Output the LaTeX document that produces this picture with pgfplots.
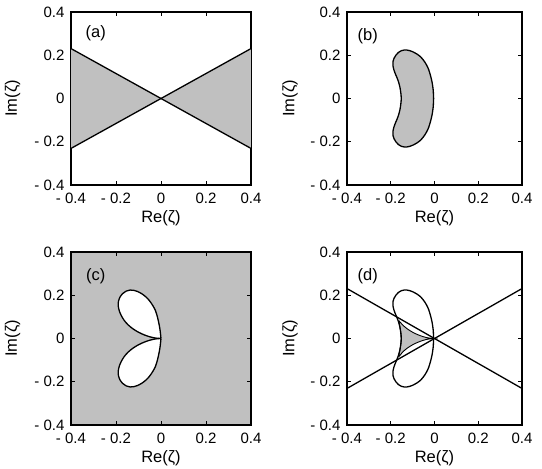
\documentclass[border=0pt]{standalone}
\usepackage{fontspec}
\setmainfont{Liberation Sans}
\usepackage{pgfplots}
\pgfplotsset{compat=1.18}
\definecolor{shade}{RGB}{192,192,192}
\pgfplotsset{
  panel/.style={
    scale only axis,
    xmin=-0.4, xmax=0.4, ymin=-0.4, ymax=0.4,
    xtick={-0.4,-0.2,0,0.2,0.4}, ytick={-0.4,-0.2,0,0.2,0.4},
    xticklabels={- 0.4,- 0.2,0,0.2,0.4},
    yticklabels={- 0.4,- 0.2,0,0.2,0.4},
    tick align=inside, major tick length=4bp,
    every tick/.style={black, line width=0.9bp},
    axis line style={line width=1.4bp},
    tick label style={font=\fontsize{15bp}{18bp}\selectfont},
    label style={font=\fontsize{16.5bp}{19bp}\selectfont},
    xticklabel style={yshift=-5bp},
    yticklabel style={xshift=-3bp},
    xlabel={Re(ζ)}, ylabel={Im(ζ)},
    xlabel style={at={(axis description cs:0.5,-0.193)}, anchor=center},
    ylabel style={at={(axis description cs:-0.325,0.5)}, anchor=center},
  },
  curve/.style={black, line width=1.3bp, mark=none},
}
\pgfplotstableread{
x y
-0.004 0
-0.006 0.04
-0.011 0.075
-0.018 0.105
-0.027 0.135
-0.038 0.158
-0.051 0.178
-0.065 0.194
-0.081 0.206
-0.097 0.215
-0.112 0.221
-0.126 0.224
-0.139 0.224
-0.152 0.221
-0.165 0.213
-0.176 0.201
-0.185 0.186
-0.190 0.170
-0.190 0.153
-0.186 0.134
-0.179 0.114
-0.171 0.095
-0.164 0.075
-0.158 0.052
-0.154 0.026
-0.152 0
-0.154 -0.026
-0.158 -0.052
-0.164 -0.075
-0.171 -0.095
-0.179 -0.114
-0.186 -0.134
-0.190 -0.153
-0.190 -0.170
-0.185 -0.186
-0.176 -0.201
-0.165 -0.213
-0.152 -0.221
-0.139 -0.224
-0.126 -0.224
-0.112 -0.221
-0.097 -0.215
-0.081 -0.206
-0.065 -0.194
-0.051 -0.178
-0.038 -0.158
-0.027 -0.135
-0.018 -0.105
-0.011 -0.075
-0.006 -0.04
-0.004 0
}\kidney
\pgfplotstableread{
x y
0 0
-0.002 0.02
-0.005 0.045
-0.010 0.073
-0.016 0.100
-0.025 0.130
-0.038 0.155
-0.053 0.177
-0.069 0.194
-0.087 0.208
-0.106 0.218
-0.122 0.223
-0.138 0.224
-0.155 0.219
-0.170 0.208
-0.182 0.192
-0.189 0.172
-0.190 0.150
-0.185 0.127
-0.176 0.105
-0.163 0.083
-0.146 0.063
-0.125 0.045
-0.100 0.029
-0.075 0.017
-0.050 0.008
-0.025 0.002
0 0
}\lobeup
\pgfplotstableread{
x y
0 0
-0.002 -0.02
-0.005 -0.045
-0.010 -0.073
-0.016 -0.100
-0.025 -0.130
-0.038 -0.155
-0.053 -0.177
-0.069 -0.194
-0.087 -0.208
-0.106 -0.218
-0.122 -0.223
-0.138 -0.224
-0.155 -0.219
-0.170 -0.208
-0.182 -0.192
-0.189 -0.172
-0.190 -0.150
-0.185 -0.127
-0.176 -0.105
-0.163 -0.083
-0.146 -0.063
-0.125 -0.045
-0.100 -0.029
-0.075 -0.017
-0.050 -0.008
-0.025 -0.002
0 0
}\lobedown
\pgfplotstableread{
x y
-0.163 0.083
-0.146 0.063
-0.125 0.045
-0.100 0.029
-0.075 0.017
-0.050 0.008
-0.025 0.002
0 0
-0.025 -0.002
-0.050 -0.008
-0.075 -0.017
-0.100 -0.029
-0.125 -0.045
-0.146 -0.063
-0.163 -0.083
-0.158 -0.052
-0.154 -0.026
-0.152 0
-0.154 0.026
-0.158 0.052
-0.163 0.083
}\region
\begin{document}
\begin{tikzpicture}
\useasboundingbox (0,0) rectangle (542bp,469bp);
% (a)
\begin{axis}[panel, at={(71bp,284bp)}, anchor=south west, width=180bp, height=173bp]
\addplot[fill=shade, draw=none] coordinates {(-0.4,0.2309) (0,0) (-0.4,-0.2309) (-0.4,0.2309)};
\addplot[fill=shade, draw=none] coordinates {(0.4,0.2309) (0,0) (0.4,-0.2309) (0.4,0.2309)};
\addplot[curve] coordinates {(-0.4,0.2309) (0.4,-0.2309)};
\addplot[curve] coordinates {(-0.4,-0.2309) (0.4,0.2309)};
\node[font=\fontsize{16.5bp}{19bp}\selectfont] at (axis cs:-0.29,0.30) {(a)};
\end{axis}
% (b)
\begin{axis}[panel, at={(347bp,284bp)}, anchor=south west, width=175bp, height=173bp]
\addplot[curve, fill=shade, smooth] table {\kidney};
\node[font=\fontsize{16.5bp}{19bp}\selectfont] at (axis cs:-0.305,0.29) {(b)};
\end{axis}
% (c)
\begin{axis}[panel, at={(71bp,44bp)}, anchor=south west, width=180bp, height=173bp,
  axis background/.style={fill=shade}]
\addplot[curve, fill=white, smooth] table {\lobeup};
\addplot[curve, fill=white, smooth] table {\lobedown};
\node[font=\fontsize{16.5bp}{19bp}\selectfont] at (axis cs:-0.29,0.29) {(c)};
\end{axis}
% (d)
\begin{axis}[panel, at={(347bp,44bp)}, anchor=south west, width=175bp, height=173bp]
\addplot[black, line width=0.9bp, fill=shade, smooth] table {\region};
\addplot[curve, smooth] table {\kidney};
\addplot[curve] coordinates {(-0.4,0.2309) (0.4,-0.2309)};
\addplot[curve] coordinates {(-0.4,-0.2309) (0.4,0.2309)};
\node[font=\fontsize{16.5bp}{19bp}\selectfont] at (axis cs:-0.305,0.29) {(d)};
\end{axis}
\end{tikzpicture}
\end{document}
